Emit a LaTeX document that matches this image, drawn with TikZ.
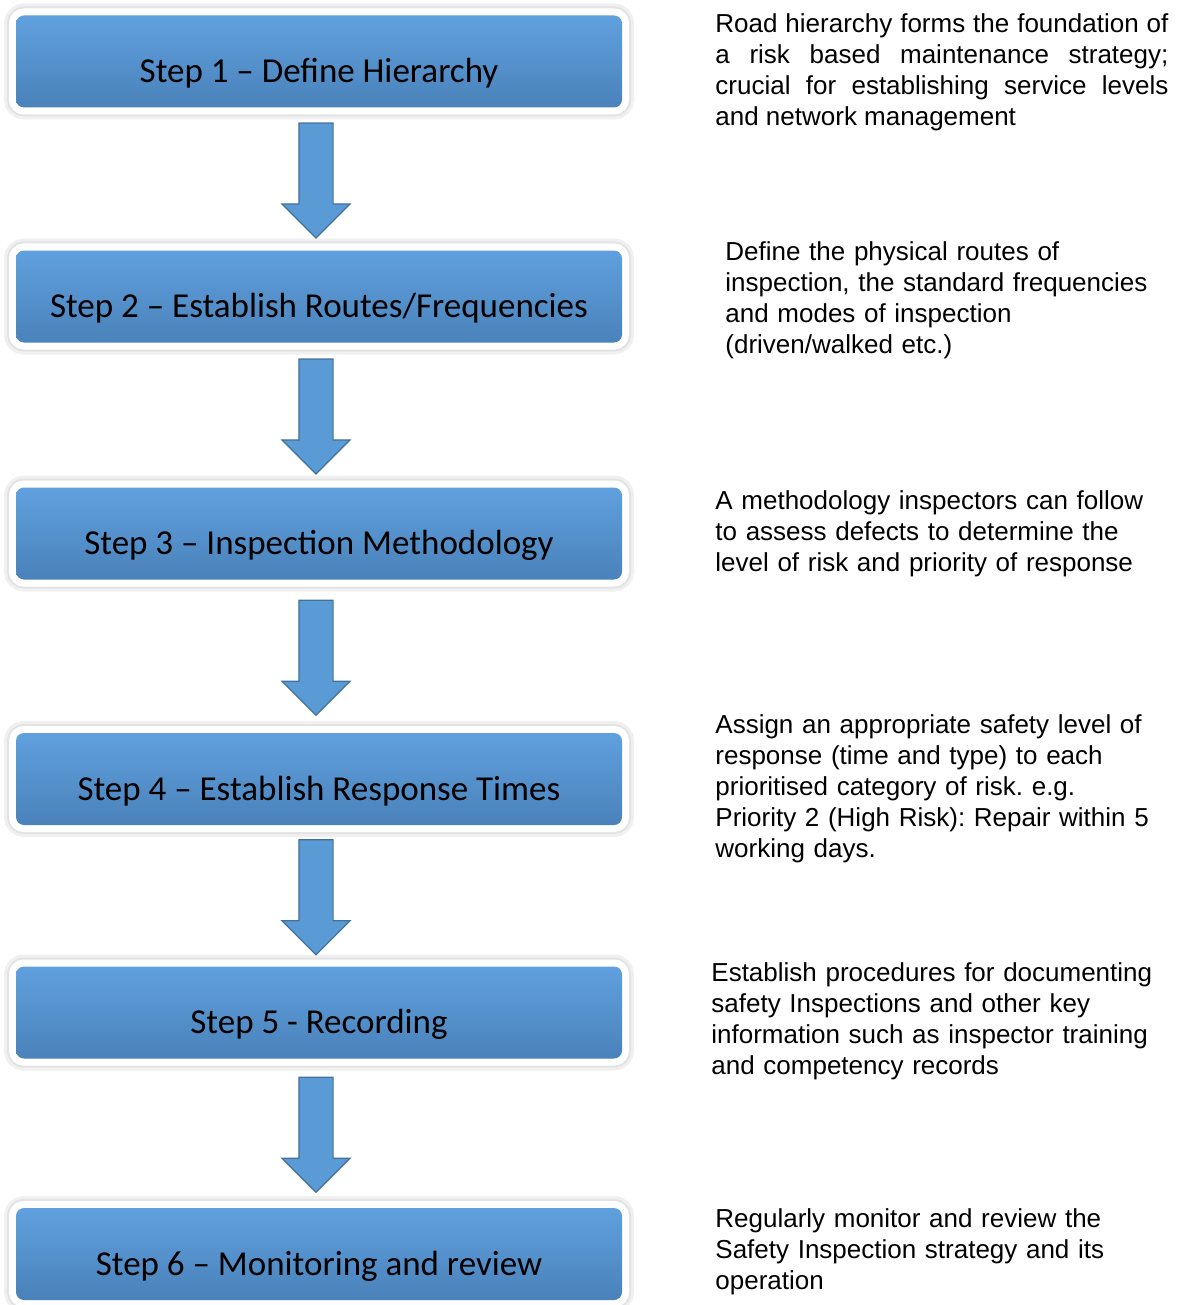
\documentclass[tikz,border=0pt]{standalone}
\usepackage{fontspec}
\setmainfont{Liberation Sans}
\newfontfamily\boxfont{Carlito}
\usepackage{tikz}
\usetikzlibrary{calc,positioning,shapes.arrows}
\frenchspacing

\definecolor{boxtop}{RGB}{96,160,222}
\definecolor{boxmid}{RGB}{89,150,207}
\definecolor{boxbot}{RGB}{74,130,186}
\definecolor{arrowfill}{RGB}{91,155,213}
\definecolor{arrowline}{RGB}{65,113,156}

\tikzset{
  stepbox/.style={rectangle, rounded corners=4pt, minimum width=303pt, minimum height=46pt,
    inner sep=0pt, text height=21pt, text depth=0pt,
    top color=boxtop, middle color=boxmid, bottom color=boxbot,
    preaction={draw=black!6, line width=12pt},
    preaction={draw=black!11, line width=9pt},
    preaction={draw=white, line width=7pt},
    font=\boxfont\fontsize{17.5pt}{21pt}\selectfont},
  downarrow/.style={single arrow, rotate=-90, fill=arrowfill, draw=arrowline, line width=0.6pt,
    minimum height=57.5pt, minimum width=33.5pt, single arrow head extend=8.5pt,
    single arrow tip angle=90, inner xsep=0pt, inner ysep=8.25pt,
    text height=0pt, text depth=0pt},
  desc/.style={anchor=base west, inner sep=0pt, text width=232pt, align=left,
    font=\fontsize{13pt}{15.5pt}\selectfont}
}

\begin{document}
\begin{tikzpicture}[x=0.5pt,y=-0.5pt]
\useasboundingbox (0,0) rectangle (1181,1305);

% steps
\node[stepbox] (s1) at (319,61.5) {Step 1 – Define Hierarchy};
\node[stepbox] (s2) at (319,296.5) {Step 2 – Establish Routes/Frequencies};
\node[stepbox] (s3) at (319,533.5) {Step 3 – Inspection Methodology};
\node[stepbox] (s4) at (319,779) {Step 4 – Establish Response Times};
\node[stepbox] (s5) at (319,1012.5) {Step 5 - Recording};
\node[stepbox] (s6) at (319,1254) {Step 6 – Monitoring and review};

% arrows between steps
\foreach \a/\b in {s1/s2,s2/s3,s3/s4,s4/s5,s5/s6}
  \node[downarrow] (\a-\b) at ($(\a.south)!0.5!(\b.north)+(-3,-7)$) {};

% descriptions
\node[desc, text width=226.5pt, align=justify] (d1) at (715,33)
  {Road hierarchy forms the foundation of\linebreak a risk based maintenance strategy;\linebreak crucial for establishing service levels\linebreak and network management};
\node[desc] (d2) at (725,260)
  {Define the physical routes of\\inspection, the standard frequencies\\and modes of inspection\\(driven/walked etc.)};
\node[desc] (d3) at (715,509)
  {A methodology inspectors can follow\\to assess defects to determine the\\level of risk and priority of response};
\node[desc] (d4) at (715,733)
  {Assign an appropriate safety level of\\response (time and type) to each\\prioritised category of risk. e.g.\\Priority 2 (High Risk): Repair within 5\\working days.};
\node[desc] (d5) at (711,981)
  {Establish procedures for documenting\\safety Inspections and other key\\information such as inspector training\\and competency records};
\node[desc] (d6) at (715,1227)
  {Regularly monitor and review the\\Safety Inspection strategy and its\\operation};
\end{tikzpicture}
\end{document}
